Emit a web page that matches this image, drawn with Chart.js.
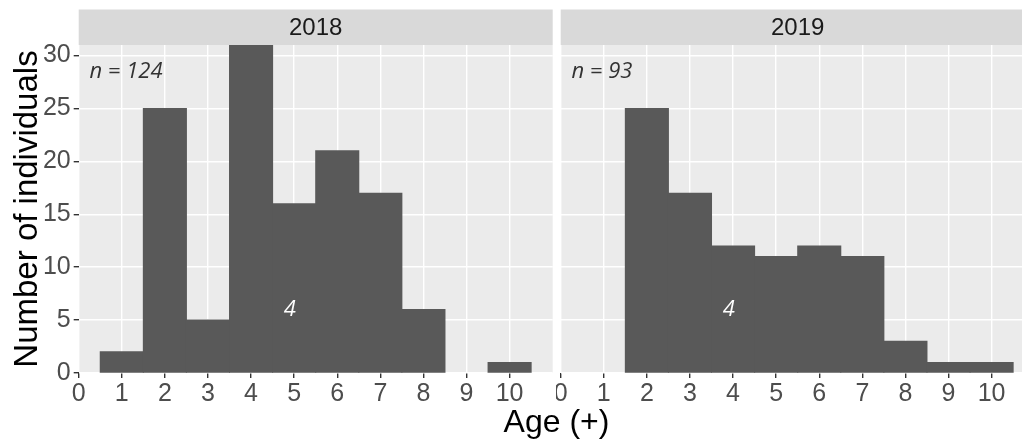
<!DOCTYPE html>
<html>
<head>
<meta charset="utf-8">
<script src="https://cdn.jsdelivr.net/npm/chart.js@4.4.1/dist/chart.umd.min.js"></script>
<style>
  body { margin: 0; background: #fff; width: 1022px; height: 441px; overflow: hidden; position: relative; }
  canvas { position: absolute; top: 0; }
  #c2018 { left: 0; }
  #c2019 { left: 556px; }
  #xtitle {
    position: absolute; left: 0; width: 1113px; top: 403px; line-height: 36px; text-align: center;
    font: 32px "Liberation Sans", Arial, sans-serif; color: #000;
  }
</style>
</head>
<body>
<canvas id="c2018" width="556" height="441"></canvas>
<canvas id="c2019" width="483" height="441"></canvas>
<div id="xtitle">Age (+)</div>
<script>
// Individuos por edad, un panel por año
const ages = [1, 2, 3, 4, 5, 6, 7, 8, 9, 10];
const counts2018 = [2, 25, 5, 31, 16, 21, 17, 6, 0, 1];
const counts2019 = [0, 25, 17, 12, 11, 12, 11, 3, 1, 1];
const years = ['2018', '2019'];
const nLabels = ['n = 124', 'n = 93'];
const medianAge = ['4', '4'];
const medianPos = [4.9, 3.9];   // donde va la etiqueta de la mediana (eje x)
const xTicks = [0, 1, 2, 3, 4, 5, 6, 7, 8, 9, 10];
const yTicks = [0, 5, 10, 15, 20, 25, 30];

const STRIP_TOP = 9.5;
const FONT = '"Liberation Sans", Arial, sans-serif';

// Fondo gris del panel, cabecera del año y textos
const panelPlugin = {
  id: 'panel',
  beforeDraw(chart, args, opts) {
    const { ctx, chartArea: a } = chart;
    ctx.save();
    ctx.fillStyle = '#EBEBEB';
    ctx.fillRect(a.left, a.top, a.right - a.left, a.bottom - a.top);
    ctx.fillStyle = '#D9D9D9';
    ctx.fillRect(a.left, STRIP_TOP, a.right - a.left, a.top - STRIP_TOP);
    ctx.fillStyle = '#1A1A1A';
    ctx.font = '24px ' + FONT;
    ctx.textAlign = 'center';
    ctx.textBaseline = 'middle';
    ctx.fillText(opts.strip, (a.left + a.right) / 2, (STRIP_TOP + a.top) / 2 + 1);
    ctx.restore();
  },
  afterDatasetsDraw(chart, args, opts) {
    const { ctx, scales: { x, y } } = chart;
    ctx.save();
    ctx.font = 'italic 22px "Open Sans", sans-serif';
    ctx.textBaseline = 'middle';
    ctx.fillStyle = '#333333';
    ctx.textAlign = 'left';
    ctx.fillText(opts.n, x.getPixelForValue(0.25), y.getPixelForValue(28.5));
    ctx.fillStyle = '#FFFFFF';
    ctx.textAlign = 'center';
    ctx.fillText(opts.median, x.getPixelForValue(opts.medianX), y.getPixelForValue(6));
    ctx.restore();
  }
};

function makeChart(id, idx, counts) {
  const first = idx === 0;
  const ctx = document.getElementById(id).getContext('2d');
  return new Chart(ctx, {
    type: 'bar',
    data: {
      datasets: [{
        // las edades sin individuos no llevan barra
        data: ages.map((a, i) => ({ x: a, y: counts[i] || null })),
        backgroundColor: '#595959',
        borderWidth: 0,
        inflateAmount: 0.5,
        barPercentage: 1,
        categoryPercentage: 1
      }]
    },
    options: {
      responsive: false,
      animation: false,
      layout: { padding: { left: first ? 0 : 4.7, right: first ? 3.3 : 4.3, top: 45, bottom: 0 } },
      plugins: {
        legend: { display: false },
        tooltip: { enabled: false },
        panel: { strip: years[idx], n: nLabels[idx], median: medianAge[idx], medianX: medianPos[idx] }
      },
      scales: {
        x: {
          type: 'linear',
          min: 0,
          max: 11,
          offset: false,
          afterBuildTicks: s => { s.ticks = xTicks.map(v => ({ value: v })); },
          afterFit: s => { s.height = 68; s.paddingLeft = 0; s.paddingRight = 0; },
          border: { display: false },
          grid: { color: '#FFFFFF', lineWidth: 1.4, tickColor: '#333333', tickLength: 5, offset: false },
          ticks: {
            color: '#4D4D4D', padding: 1, autoSkip: false, maxRotation: 0,
            font: { family: FONT, size: 25 }
          }
        },
        y: {
          min: 0,
          max: 31,
          afterBuildTicks: s => { s.ticks = yTicks.map(v => ({ value: v })); },
          afterFit: s => { s.width = first ? 78.7 : 0; s.paddingTop = 0; s.paddingBottom = 0; },
          border: { display: false },
          grid: { color: '#FFFFFF', lineWidth: 1.4, tickColor: '#333333', tickLength: 5, drawTicks: first },
          ticks: {
            display: first, color: '#4D4D4D', padding: 3,
            font: { family: FONT, size: 25 }
          },
          title: {
            display: first,
            text: 'Number of individuals',
            color: '#000000',
            padding: { top: 8, bottom: 0 },
            font: { family: FONT, size: 33 }
          }
        }
      }
    },
    plugins: [panelPlugin]
  });
}

makeChart('c2018', 0, counts2018);
makeChart('c2019', 1, counts2019);
</script>
</body>
</html>
